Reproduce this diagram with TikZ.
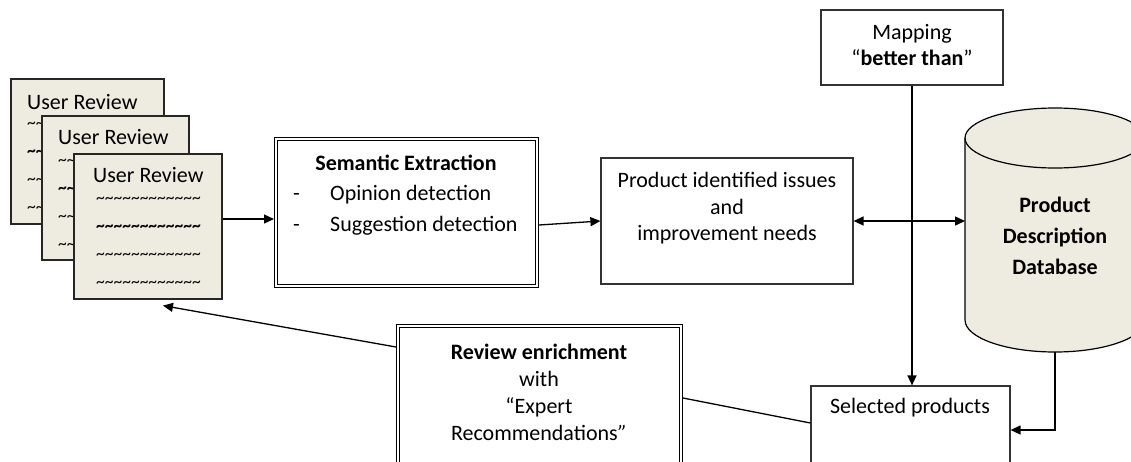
\documentclass[tikz,border=0pt]{standalone}
\usepackage{fontspec}
\setmainfont{Carlito}
\usetikzlibrary{arrows.meta}
\definecolor{paper}{HTML}{EEECE1}
\newcommand\tildesrow{\textasciitilde\textasciitilde\textasciitilde\textasciitilde\textasciitilde\textasciitilde\textasciitilde\textasciitilde\textasciitilde\textasciitilde\textasciitilde\textasciitilde}
\newcommand\tildesshort{\textasciitilde\textasciitilde}
\begin{document}
\begin{tikzpicture}[x=1pt,y=-1pt, font=\fontsize{22}{27}\selectfont,
 txt/.style={inner sep=0pt, align=center},
 revbox/.style={draw=black!85, fill=paper, line width=1.2pt, inner sep=0pt, outer sep=0.6pt},
 sbox/.style={draw=black!80, line width=1.2pt, inner sep=0pt, outer sep=0.6pt},
 dbox/.style={draw=black, double=white, double distance=2pt, line width=1.2pt, inner sep=0pt, outer sep=2.2pt},
 arr/.style={-{Triangle[length=10pt,width=9pt]}, line width=1.3pt},
 darr/.style={{Triangle[length=10pt,width=9pt]}-{Triangle[length=10pt,width=9pt]}, line width=1.3pt},
 link/.style={line width=1.3pt},
 tl/.style={inner sep=0pt, anchor=west, font=\fontsize{17.5}{20}\selectfont}]
\useasboundingbox (0,0) rectangle (1131,461);

% user reviews
\node[revbox, minimum width=153pt, minimum height=145pt] (r1) at (87.5,151.5) {};
\node[txt, anchor=west] (r1t) at (27,102) {User Review};
\node[tl] (r1a) at (27,125.5) {\tildesshort};
\node[tl, font=\fontsize{17.5}{20}\selectfont\bfseries] (r1b) at (27,153.5) {\tildesshort};
\node[tl] (r1c) at (27,181) {\tildesshort};
\node[tl] (r1d) at (27,209) {\tildesshort};

\node[revbox, minimum width=147pt, minimum height=144pt] (r2) at (115.5,188) {};
\node[txt, anchor=west] (r2t) at (58,137) {User Review};
\node[tl] (r2a) at (58,162.5) {\tildesshort};
\node[tl, font=\fontsize{17.5}{20}\selectfont\bfseries] (r2b) at (58,190.5) {\tildesshort};
\node[tl] (r2c) at (58,218) {\tildesshort};
\node[tl] (r2d) at (58,246) {\tildesshort};

\node[revbox, minimum width=148pt, minimum height=145pt] (r3) at (148,226.5) {};
\node[txt, anchor=west] (r3t) at (93,175) {User Review};
\node[tl] (r3a) at (96,200.5) {\tildesrow};
\node[tl, font=\fontsize{17.5}{20}\selectfont\bfseries] (r3b) at (96,228.5) {\tildesrow};
\node[tl] (r3c) at (96,256) {\tildesrow};
\node[tl] (r3d) at (96,284) {\tildesrow};

% semantic extraction
\node[dbox, minimum width=260.6pt, minimum height=146.6pt] (sem) at (406.5,212.5) {};
\node[txt, font=\fontsize{22}{27}\selectfont\bfseries] (semt) at (406,163) {Semantic Extraction};
\node[txt, anchor=west] (op) at (293,195) {\makebox[37pt][l]{-}Opinion detection};
\node[txt, anchor=west] (sg) at (293,226) {\makebox[37pt][l]{-}Suggestion detection};

% product issues
\node[sbox, minimum width=252pt, minimum height=126pt] (prod) at (727,221) {};
\node[txt, font=\fontsize{22}{26.5}\selectfont] (prodt) at (727,208.5) {Product identified issues\\and\\improvement needs};

% mapping
\node[sbox, minimum width=182pt, minimum height=75pt] (map) at (912,47.5) {};
\node[txt, font=\fontsize{22}{26}\selectfont] (mapt) at (912,45) {Mapping\\“\textbf{better than}”};

% database cylinder
\path[fill=paper, draw=black, line width=1.2pt] (965,138) -- (965,320)
  arc[start angle=180, end angle=360, x radius=90pt, y radius=32pt] -- (1145,138)
  arc[start angle=0, end angle=180, x radius=90pt, y radius=30pt] -- cycle;
\draw[line width=1.2pt] (965,138) arc[start angle=180, end angle=360, x radius=90pt, y radius=30pt];
\node[minimum width=180pt, minimum height=244pt, inner sep=0pt, outer sep=0pt] (db) at (1055,230) {};
\node[txt, font=\fontsize{22}{31}\selectfont\bfseries] (dbt) at (1055,236) {Product\\Description\\Database};

% selected products
\node[sbox, minimum width=199pt, minimum height=88pt] (sel) at (910.5,430) {};
\node[txt] (selt) at (910,408) {Selected products};

% review enrichment
\node[dbox, minimum width=282.6pt, minimum height=143.6pt] (enr) at (539.5,398) {};
\node[txt] (enrt) at (539,392.5) {\textbf{Review enrichment}\\with\\“Expert\\Recommendations\textit{”}};

% connectors
\coordinate (a1) at ([yshift=7.5pt]r3.east);
\draw[arr] (a1) -- (a1 -| sem.west);
\draw[arr] ([yshift=-12.5pt]sem.east) -- (prod.west);
\draw[darr] (prod.east) -- (prod.east -| db.west);
\draw[arr] (map.south) -- (map.south |- sel.north);
\draw[arr] (db.south) |- (sel.east);
\draw[link] ([yshift=7pt]sel.west) -- (enr.east);
\draw[arr] ([yshift=-23pt]enr.north west) -- ([xshift=15pt,yshift=-6pt]r3.south);
\end{tikzpicture}
\end{document}
